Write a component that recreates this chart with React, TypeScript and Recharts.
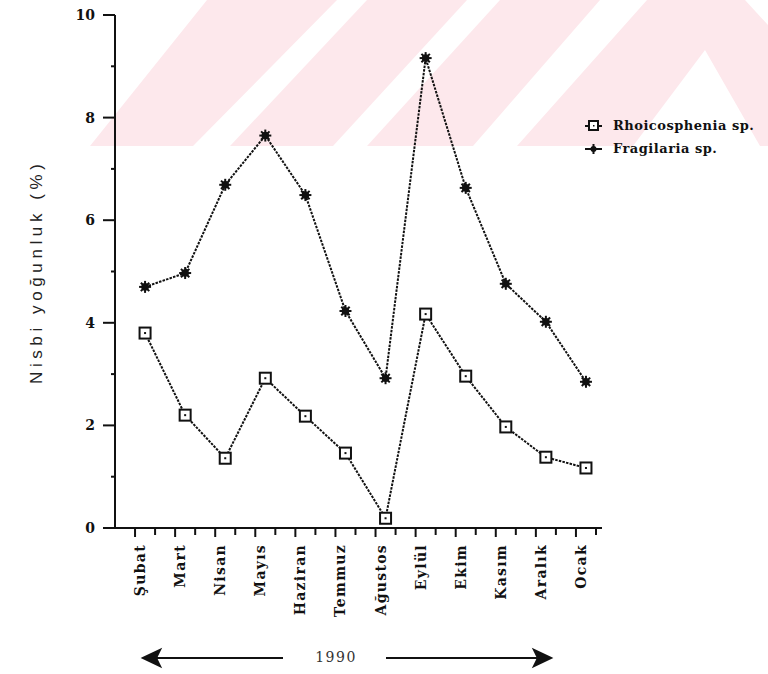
import { LineChart, Line, XAxis, YAxis } from 'recharts'

// Monthly relative abundance of two diatom taxa, Feb 1990 – Jan 1991
const months = ['Şubat', 'Mart', 'Nisan', 'Mayıs', 'Haziran', 'Temmuz', 'Ağustos', 'Eylül', 'Ekim', 'Kasım', 'Aralık', 'Ocak']
const rhoicosphenia = [3.8, 2.2, 1.36, 2.92, 2.18, 1.46, 0.19, 4.17, 2.96, 1.97, 1.38, 1.17]
const fragilaria = [4.7, 4.97, 6.69, 7.65, 6.49, 4.23, 2.92, 9.16, 6.63, 4.76, 4.02, 2.85]
const yTicks = [0, 1, 2, 3, 4, 5, 6, 7, 8, 9, 10]
const seriesNames = ['Rhoicosphenia sp.', 'Fragilaria sp.']
const yTitle = 'Nisbi yoğunluk (%)'
const yearLabel = '1990'

const data = months.map((m, i) => ({
  idx: i,
  month: m,
  rhoicosphenia: rhoicosphenia[i],
  fragilaria: fragilaria[i],
}))

// major ticks sit just left of each month, minor ones just right of it
const xTicks = months.flatMap((_, i) => [i - 0.25, i + 0.25])

const FONT = '"DejaVu Serif", serif'
const INK = '#111'

function XTick(props: any) {
  const { x, y, payload } = props
  const k = payload.value + 0.25
  const major = Math.abs(k - Math.round(k)) < 1e-6
  const lx = x + 5
  const ly = y + 16
  return (
    <g>
      <line x1={x} y1={y} x2={x} y2={y + (major ? 9 : 7)} stroke={INK} strokeWidth={2} />
      {major && (
        <text
          x={lx}
          y={ly}
          transform={`rotate(-90, ${lx}, ${ly})`}
          textAnchor="end"
          dominantBaseline="central"
          fontFamily={FONT}
          fontWeight="bold"
          fontSize={14}
          letterSpacing={1.3}
          fill={INK}
        >
          {months[Math.round(k)]}
        </text>
      )}
    </g>
  )
}

function YTick(props: any) {
  const { x, y, payload } = props
  const v = payload.value
  const major = v % 2 === 0
  return (
    <g>
      <line x1={x} y1={y} x2={x - (major ? 12 : 4)} y2={y} stroke={INK} strokeWidth={2} />
      {major && (
        <text
          x={x - 20}
          y={y}
          textAnchor="end"
          dominantBaseline="central"
          fontFamily={FONT}
          fontWeight="bold"
          fontSize={14}
          fill={INK}
        >
          {v}
        </text>
      )}
    </g>
  )
}

function SquareDot(props: any) {
  const { cx, cy } = props
  if (cx == null || cy == null) return null
  return (
    <g>
      <rect x={cx - 5.5} y={cy - 5.5} width={11} height={11} fill="#fff" stroke={INK} strokeWidth={2} />
      <rect x={cx - 1} y={cy - 1} width={2} height={2} fill={INK} />
    </g>
  )
}

function StarDot(props: any) {
  const { cx, cy } = props
  if (cx == null || cy == null) return null
  const r = 6
  const d = 4.2
  return (
    <g stroke={INK} strokeWidth={2}>
      <line x1={cx - r} y1={cy} x2={cx + r} y2={cy} />
      <line x1={cx} y1={cy - r} x2={cx} y2={cy + r} />
      <line x1={cx - d} y1={cy - d} x2={cx + d} y2={cy + d} />
      <line x1={cx - d} y1={cy + d} x2={cx + d} y2={cy - d} />
      <circle cx={cx} cy={cy} r={2.8} fill={INK} />
    </g>
  )
}

function LegendBox() {
  return (
    <div style={{ position: 'absolute', left: 584, top: 114, whiteSpace: 'nowrap' }}>
      {seriesNames.map((name, i) => (
        <div key={name} style={{ display: 'flex', alignItems: 'center', height: 23 }}>
          <svg width={20} height={14} style={{ marginRight: 9 }}>
            <line x1={1} y1={7} x2={18} y2={7} stroke={INK} strokeWidth={2} />
            {i === 0 ? (
              <g>
                <rect x={5} y={2} width={9} height={9} fill="#fff" stroke={INK} strokeWidth={2} />
                <rect x={9} y={6} width={1.5} height={1.5} fill={INK} />
              </g>
            ) : (
              <g stroke={INK} strokeWidth={2}>
                <line x1={9.5} y1={2} x2={9.5} y2={12} />
                <circle cx={9.5} cy={7} r={2} fill={INK} />
              </g>
            )}
          </svg>
          <span style={{ fontFamily: FONT, fontWeight: 'bold', fontSize: 13, letterSpacing: 0.5, color: INK }}>
            {name}
          </span>
        </div>
      ))}
    </div>
  )
}

// faint pink band pattern behind the upper part of the plot
const bands = [
  '90,146 193,146 337,0 207,0',
  '230,146 333,146 467,0 367,0',
  '367,146 473,146 600,0 500,0',
  '517,146 633,146 705,50 760,146 768,146 768,25 745,0 647,0',
]

export default function App() {
  return (
    <div style={{ position: 'absolute', left: 0, top: 0, width: 768, height: 674, overflow: 'hidden', background: '#fff' }}>
      <svg width={768} height={674} style={{ position: 'absolute', left: 0, top: 0 }}>
        {bands.map((p) => (
          <polygon key={p} points={p} fill="#fde8ec" />
        ))}
      </svg>
      <div style={{ position: 'absolute', left: 0, top: 0 }}>
        <LineChart width={768} height={674} data={data} margin={{ top: 15, right: 166, bottom: 26, left: 0 }}>
          <XAxis
            dataKey="idx"
            type="number"
            domain={[-0.75, 11.4]}
            ticks={xTicks}
            interval={0}
            height={120}
            axisLine={{ stroke: INK, strokeWidth: 2 }}
            tickLine={false}
            tickSize={0}
            tickMargin={0}
            tick={<XTick />}
          />
          <YAxis
            type="number"
            domain={[0, 10]}
            ticks={yTicks}
            interval={0}
            width={115}
            axisLine={{ stroke: INK, strokeWidth: 2 }}
            tickLine={false}
            tickSize={0}
            tickMargin={0}
            tick={<YTick />}
          />
          <Line
            type="linear"
            dataKey="rhoicosphenia"
            name={seriesNames[0]}
            stroke={INK}
            strokeWidth={2}
            strokeDasharray="2.5 1.2"
            dot={<SquareDot />}
            isAnimationActive={false}
          />
          <Line
            type="linear"
            dataKey="fragilaria"
            name={seriesNames[1]}
            stroke={INK}
            strokeWidth={2}
            strokeDasharray="2.5 1.2"
            dot={<StarDot />}
            isAnimationActive={false}
          />
        </LineChart>
      </div>
      <LegendBox />
      <svg width={768} height={674} style={{ position: 'absolute', left: 0, top: 0, pointerEvents: 'none' }}>
        <text
          x={36}
          y={274}
          transform="rotate(-90, 36, 274)"
          textAnchor="middle"
          dominantBaseline="central"
          fontFamily='"Liberation Sans", sans-serif'
          fontSize={17}
          textLength={220}
          lengthAdjust="spacing"
          fill="#222"
        >
          {yTitle}
        </text>
        <g stroke={INK} strokeWidth={2} fill={INK}>
          <line x1={146} y1={658} x2={283} y2={658} />
          <polygon points="143,658 160,650 156,658 160,666" />
          <line x1={386} y1={658} x2={548} y2={658} />
          <polygon points="551,658 534,650 538,658 534,666" />
        </g>
        <text
          x={336}
          y={657}
          textAnchor="middle"
          dominantBaseline="central"
          fontFamily={FONT}
          fontSize={14}
          letterSpacing={1.5}
          fill="#333"
        >
          {yearLabel}
        </text>
      </svg>
    </div>
  )
}
